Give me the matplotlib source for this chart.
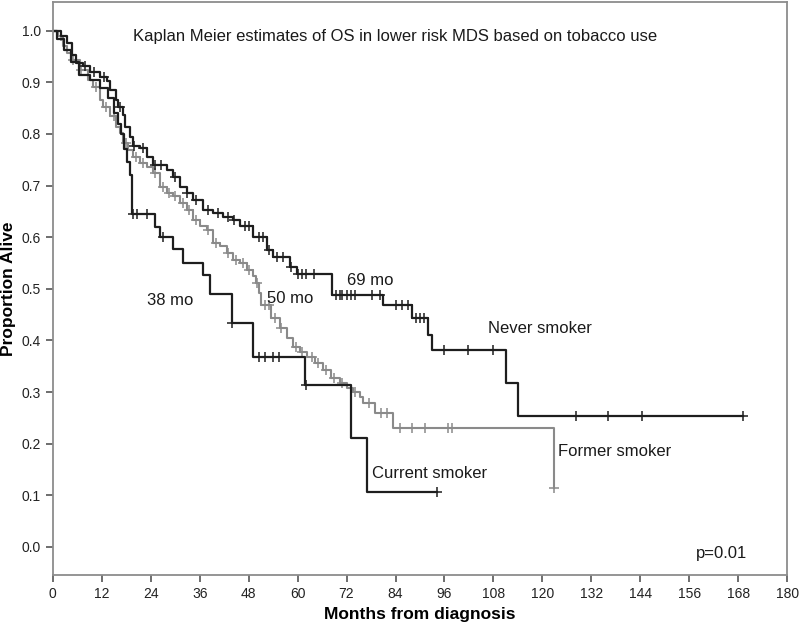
import numpy as np
import matplotlib.pyplot as plt

# Kaplan-Meier step curves (months, proportion alive)
never_t = [0, 2.1, 3.4, 4.6, 5.8, 7.4, 9.1, 11.5, 13.2, 14, 15.6, 16, 17.2, 17.7, 18.9, 19.7,
           21.3, 23, 24.6, 27.9, 29.5, 31.1, 32.8, 34.4, 36.9, 39.3, 41.8, 44.2, 45.9, 49.1,
           52.4, 54, 58.1, 59.8, 68.5, 81, 88, 92, 93, 111, 114, 169.2]
never_s = [1.0, 0.989, 0.976, 0.953, 0.937, 0.931, 0.921, 0.911, 0.902, 0.886, 0.866, 0.853,
           0.837, 0.814, 0.795, 0.776, 0.773, 0.756, 0.740, 0.730, 0.717, 0.698, 0.685, 0.672,
           0.653, 0.646, 0.640, 0.634, 0.621, 0.601, 0.575, 0.562, 0.543, 0.528, 0.488, 0.468,
           0.443, 0.410, 0.381, 0.317, 0.253, 0.253]
never_cens = [8, 10, 12.5, 16.5, 20, 22, 25, 26.5, 30, 33, 35, 38, 40.5, 43, 44.5, 47, 48,
              50.5, 51.5, 53, 55, 56.5, 58.5, 60, 61, 62, 64, 69.5, 70.5, 71, 72, 73, 74,
              78.2, 80.2, 84, 85.5, 87, 89, 90, 91, 96, 101.8, 107.9, 128.3, 136.2, 144.4, 169.2]

former_t = [0, 1.3, 2.5, 3.4, 4.6, 6.6, 8.7, 9.9, 11.5, 12.3, 14, 15.6, 16.4, 17.2, 18.5, 19.7,
            21.3, 23, 24.6, 26.2, 27.9, 29.5, 31.1, 32.8, 34.4, 36, 37.7, 39.3, 41, 42.6, 44.2,
            45.9, 47.5, 49.1, 49.9, 50.5, 51, 53.6, 55.7, 57.3, 58.9, 60.6, 62.2, 64.2, 66.2,
            68.3, 70.4, 72, 73.6, 75.3, 76, 79, 83.4, 122.9]
former_s = [1.0, 0.989, 0.970, 0.957, 0.944, 0.924, 0.905, 0.892, 0.866, 0.853, 0.834, 0.814,
            0.802, 0.782, 0.769, 0.756, 0.743, 0.737, 0.724, 0.698, 0.685, 0.679, 0.666, 0.653,
            0.634, 0.621, 0.614, 0.588, 0.582, 0.569, 0.556, 0.550, 0.537, 0.524, 0.511, 0.491,
            0.468, 0.443, 0.424, 0.405, 0.388, 0.378, 0.368, 0.356, 0.343, 0.327, 0.317, 0.307,
            0.300, 0.290, 0.278, 0.259, 0.231, 0.114]
former_cens = [2, 5, 7, 10.5, 13, 15, 18, 20.5, 22, 25, 27, 28.5, 30, 32, 33.5, 35, 38, 40, 43,
               45, 46.5, 48, 50, 52, 53, 54.5, 56, 59.5, 61, 63.5, 65, 67, 69, 71, 74, 77.5,
               80.5, 82, 85, 88, 91.2, 96.9, 97.8, 122.9]

current_t = [0, 1.0, 2.8, 4.5, 6.5, 9, 11.5, 13.5, 15, 16, 16.8, 17.5, 18.3, 18.8, 19.3, 25,
             26.2, 29.4, 32, 36.8, 38.5, 43.8, 49.1, 61.8, 73, 77, 94.2]
current_s = [1.0, 0.985, 0.962, 0.94, 0.915, 0.905, 0.89, 0.87, 0.84, 0.82, 0.80, 0.77, 0.745,
             0.72, 0.645, 0.62, 0.60, 0.578, 0.55, 0.527, 0.49, 0.433, 0.367, 0.313, 0.21,
             0.106, 0.106]
current_cens = [19.6, 20.6, 23, 27, 44, 50.5, 52, 54, 55.5, 62, 94.2]

xticks = list(range(0, 181, 12))
yticks = [0.0, 0.1, 0.2, 0.3, 0.4, 0.5, 0.6, 0.7, 0.8, 0.9, 1.0]

plt.rcParams['font.family'] = ['Liberation Sans', 'DejaVu Sans']

fig = plt.figure(figsize=(8, 6.3), dpi=100)
ax = fig.add_axes([0.066, 0.087, 0.918, 0.910])


def draw_km(t, s, cens, color, lw):
    t = np.array(t)
    s = np.array(s)
    ax.plot(t, s, drawstyle='steps-post', color=color, lw=lw)
    idx = np.searchsorted(t, cens, side='right') - 1
    ax.plot(cens, s[idx], linestyle='none', marker='+', ms=7, mew=1.1, color=color)


draw_km(former_t, former_s, former_cens, '#8a8a8a', 1.5)
draw_km(never_t, never_s, never_cens, '#1e1e1e', 1.6)
draw_km(current_t, current_s, current_cens, '#1e1e1e', 1.6)

ax.set_xlim(0, 180)
ax.set_ylim(-0.055, 1.056)
ax.set_xticks(xticks)
ax.set_yticks(yticks)
ax.set_yticklabels([f"{v:.1f}" for v in yticks])

for sp in ax.spines.values():
    sp.set_color('#8c8c8c')
    sp.set_linewidth(1.3)
ax.tick_params(direction='out', length=5, width=1.2, color='#555555',
               labelsize=10, labelcolor='#222222')

ax.set_xlabel('Months from diagnosis', fontsize=12.5, fontweight='bold', labelpad=4)
ax.set_ylabel('Proportion Alive', fontsize=12.5, fontweight='bold', labelpad=4)

ax.text(19.6, 0.989, 'Kaplan Meier estimates of OS in lower risk MDS based on tobacco use',
        fontsize=12, va='center', ha='left', color='#1a1a1a')
ax.text(23, 0.478, '38 mo', fontsize=12, va='center', color='#1a1a1a')
ax.text(52.4, 0.482, '50 mo', fontsize=12, va='center', color='#1a1a1a')
ax.text(72, 0.517, '69 mo', fontsize=12, va='center', color='#1a1a1a')
ax.text(106.7, 0.424, 'Never smoker', fontsize=12, va='center', color='#1a1a1a')
ax.text(123.8, 0.184, 'Former smoker', fontsize=12, va='center', color='#1a1a1a')
ax.text(78.2, 0.143, 'Current smoker', fontsize=12, va='center', color='#1a1a1a')
ax.text(157.7, -0.012, 'p=0.01', fontsize=12, va='center', color='#1a1a1a')

fig.savefig('out.png', dpi=100)
